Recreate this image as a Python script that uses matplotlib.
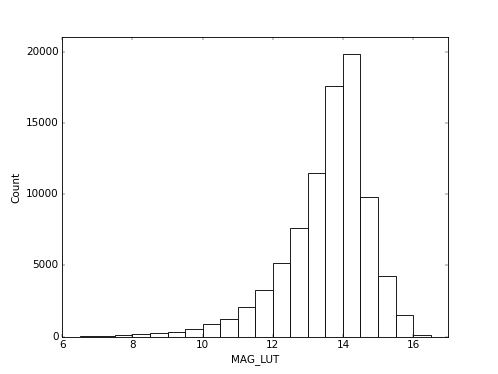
import matplotlib
matplotlib.use("Agg")
import matplotlib.pyplot as plt
import numpy as np

plt.style.use('classic')

bin_edges = [6.5, 7.0, 7.5, 8.0, 8.5, 9.0, 9.5, 10.0, 10.5, 11.0, 11.5,
             12.0, 12.5, 13.0, 13.5, 14.0, 14.5, 15.0, 15.5, 16.0, 16.5]
counts = [20, 45, 110, 160, 230, 350, 510, 880, 1260, 2080, 3260,
          5190, 7650, 11510, 17560, 19860, 9820, 4240, 1530, 120]

fig = plt.figure(figsize=(498/62.25, 374/62.25), dpi=62.25)
fig.patch.set_facecolor('white')
ax = fig.add_subplot(111)
ax.hist(bin_edges[:-1], bins=bin_edges, weights=counts, histtype='bar',
        facecolor='white', edgecolor='black', linewidth=1.0)
ax.set_xlim(6, 17)
ax.set_ylim(0, 21000)
ax.set_xticks([6, 8, 10, 12, 14, 16])
ax.set_yticks([0, 5000, 10000, 15000, 20000])
ax.set_xlabel('MAG_LUT')
ax.set_ylabel('Count')
fig.savefig('out.png', dpi=62.25, facecolor='white')
